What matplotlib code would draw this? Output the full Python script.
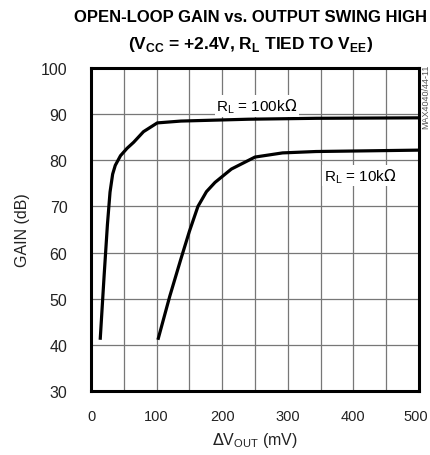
import matplotlib
matplotlib.use("Agg")
import matplotlib.pyplot as plt
import matplotlib.transforms as mtransforms
import numpy as np

# Data
x_100k = [14, 20, 25, 29, 33, 37, 45, 55, 65, 80, 101, 137, 240, 343, 500]
g_100k = [41.1, 55, 66, 73.1, 77, 78.9, 81.0, 82.6, 83.9, 86.2, 88.1, 88.5, 88.9, 89.1, 89.2]
x_10k = [102, 120, 137, 150, 163, 176, 189, 214, 250, 292, 343, 500]
g_10k = [41.1, 50.5, 58.6, 64.6, 70.0, 73.2, 75.2, 78.1, 80.7, 81.6, 81.9, 82.2]

xticks = [0, 100, 200, 300, 400, 500]
yticks = [30, 40, 50, 60, 70, 80, 90, 100]

plt.rcParams['font.family'] = ['Liberation Sans', 'DejaVu Sans']

fig = plt.figure(figsize=(4.30, 4.56), dpi=100)
ax = fig.add_axes([91/430, 1-392/456, (419-91)/430, (392-69)/456])

ax.plot(x_100k, g_100k, color='black', lw=2.3, solid_capstyle='butt', zorder=3)
ax.plot(x_10k, g_10k, color='black', lw=2.3, solid_capstyle='butt', zorder=3)

ax.set_xlim(0, 500)
ax.set_ylim(30, 100)
ax.set_xticks(xticks)
ax.set_yticks(yticks)
ax.set_xticks(np.arange(0, 501, 50), minor=True)
ax.grid(True, which='both', color='#777777', lw=0.9)
ax.tick_params(axis='y', which='both', length=0, labelsize=11.5, pad=17, labelcolor='#222222')
ax.tick_params(axis='x', which='both', length=0, labelsize=10.5, pad=13, labelcolor='#222222')
for s in ax.spines.values():
    s.set_linewidth(2.2)
    s.set_zorder(4)

ax.text(253, 91.8, r'R$_\mathregular{L}$ = 100k$\Omega$', ha='center', va='center', fontsize=11,
        bbox=dict(facecolor='white', edgecolor='none', pad=1), zorder=5)
ax.text(410, 76.7, r'R$_\mathregular{L}$ = 10k$\Omega$', ha='center', va='center', fontsize=11,
        bbox=dict(facecolor='white', edgecolor='none', pad=1), zorder=5)

ax.set_xlabel(r'$\Delta$V$_\mathregular{OUT}$ (mV)', fontsize=11.5, labelpad=5, color='#222222')
ax.set_ylabel('GAIN (dB)', fontsize=11.5, labelpad=8, color='#222222')

fig.text(0.5+36/430, 1-18/456, 'OPEN-LOOP GAIN vs. OUTPUT SWING HIGH', ha='center', va='center',
         fontsize=12, fontweight='bold')
fig.text(0.5+36/430, 1-45/456, r'(V$_\mathregular{CC}$ = +2.4V, R$_\mathregular{L}$ TIED TO V$_\mathregular{EE}$)',
         ha='center', va='center', fontsize=12.5, fontweight='bold')
fig.text(426/430, 1-97/456, 'MAX4040/44-11', rotation=90, ha='center', va='center',
         fontsize=6.5, color='#555555')

fig.canvas.draw()
last = ax.get_xticklabels()[-1]
last.set_transform(last.get_transform() + mtransforms.ScaledTranslation(-3/100, 0, fig.dpi_scale_trans))

fig.savefig('out.png', dpi=100)
